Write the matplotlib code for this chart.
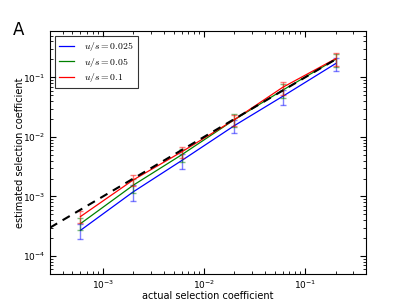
import matplotlib
matplotlib.use("Agg")
import matplotlib.pyplot as plt
import numpy as np

plt.rcParams['mathtext.fontset'] = 'cm'
plt.rcParams['font.family'] = ['DejaVu Sans']

s_true = [6e-4, 2e-3, 6e-3, 2e-2, 6e-2, 2e-1]
labels = [r'$u/s = 0.025$', r'$u/s = 0.05$', r'$u/s = 0.1$']
colors = ['#0000ff', '#008000', '#ff0000']
est_025 = [2.7e-4, 1.2e-3, 4.0e-3, 1.55e-2, 4.8e-2, 1.7e-1]
est_05 = [3.5e-4, 1.55e-3, 5.0e-3, 1.95e-2, 6.1e-2, 2.0e-1]
est_1 = [4.6e-4, 1.9e-3, 5.6e-3, 1.95e-2, 6.8e-2, 2.05e-1]
err_025 = [0.8e-4, 0.35e-3, 1.1e-3, 0.4e-2, 1.3e-2, 0.4e-1]
err_05 = [0.8e-4, 0.4e-3, 1.2e-3, 0.5e-2, 1.6e-2, 0.5e-1]
err_1 = [1.0e-4, 0.4e-3, 1.2e-3, 0.4e-2, 1.7e-2, 0.5e-1]
diag_x = [3e-4, 2e-1]

fig = plt.figure(figsize=(4.07, 3.05), dpi=100)
ax = fig.add_axes([50/407, 1-274/305, 316/407, 243/305])

for est, err, lab, c in zip([est_025, est_05, est_1], [err_025, err_05, err_1], labels, colors):
    ax.errorbar(s_true, est, yerr=err, fmt='none', ecolor=c, alpha=0.5,
                elinewidth=1.0, capsize=2, capthick=1.0)
    ax.plot(s_true, est, color=c, lw=0.9, label=lab)

ax.plot(diag_x, diag_x, 'k--', lw=1.5, dashes=(4, 3))

ax.set_xscale('log')
ax.set_yscale('log')
ax.set_xlim(3e-4, 0.4)
ax.set_ylim(5e-5, 0.6)
ax.tick_params(which='both', direction='in', top=True, right=True, labelsize=6.5)
ax.tick_params(which='major', length=4)
ax.tick_params(which='minor', length=2)
ax.set_xlabel('actual selection coefficient', fontsize=7)
ax.set_ylabel('estimated selection coefficient', fontsize=7)
ax.xaxis.set_label_coords(0.5, -(296 - 274) / 243)
ax.yaxis.set_label_coords(-(50 - 20) / 316, 0.5)
ax.xaxis.label.set_va('center')
ax.yaxis.label.set_va('center')

leg = ax.legend(loc='upper left', fontsize=7, frameon=True, fancybox=False,
                handlelength=1.5, handletextpad=1.0, borderpad=0.45,
                labelspacing=0.25, borderaxespad=0.5)
leg.get_frame().set_edgecolor('black')
leg.get_frame().set_linewidth(0.8)

fig.text(13/407, 1-30/305, 'A', fontsize=12, va='center', ha='left')

fig.savefig('out.png', dpi=100)
